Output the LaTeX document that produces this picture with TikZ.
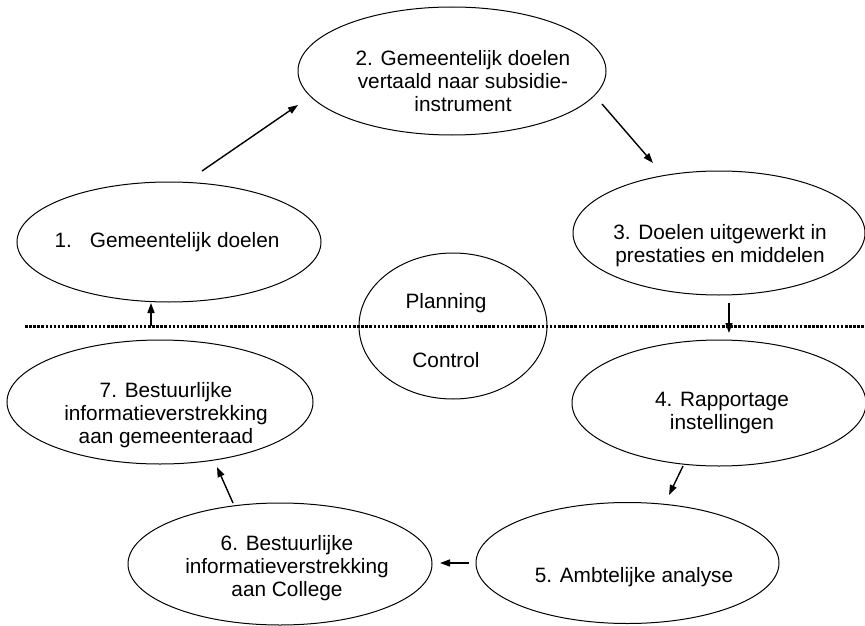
\documentclass[tikz,border=0pt]{standalone}
\usepackage{fontspec}
\setmainfont{Liberation Sans}
\usetikzlibrary{arrows.meta,shapes.geometric}
\begin{document}
\begin{tikzpicture}[x=1pt,y=-1pt,
  ell/.style={ellipse,draw,line width=1pt,inner sep=0pt},
  lbl/.style={font=\fontsize{20.8}{23.3}\selectfont,align=center,inner sep=0pt,anchor=north},
  arr/.style={line width=1.4pt,-{Triangle[length=10pt,width=7pt]}},
  sep/.style={line width=3pt,dash pattern=on 2.5pt off 1.6pt}]
\useasboundingbox (0,0) rectangle (865,626);
% ellipses
\node[ell,minimum width=304pt,minimum height=120pt] (e1) at (169,242) {};
\node[ell,minimum width=308pt,minimum height=128pt] (e2) at (452,71) {};
\node[ell,minimum width=292pt,minimum height=124pt] (e3) at (719,233) {};
\node[ell,minimum width=294pt,minimum height=126pt] (e4) at (719,403) {};
\node[ell,minimum width=303pt,minimum height=121pt] (e5) at (627.5,563) {};
\node[ell,minimum width=304pt,minimum height=122pt] (e6) at (280,564) {};
\node[ell,minimum width=306pt,minimum height=124pt] (e7) at (160,402) {};
\node[ell,minimum width=188pt,minimum height=146pt] (pc) at (453,326) {};
% texts
\node[lbl] (t1) at (167,232) {1.\hspace{18pt}Gemeentelijk doelen};
\node[lbl] (t2) at (463,50) {2. Gemeentelijk doelen\\vertaald naar subsidie-\\instrument};
\node[lbl] (t3) at (720,224) {3. Doelen uitgewerkt in\\prestaties en middelen};
\node[lbl] (t4) at (722,392) {4. Rapportage\\instellingen};
\node[lbl] (t5) at (634,567) {5. Ambtelijke analyse};
\node[lbl] (t6) at (287,535) {6. Bestuurlijke\\informatieverstrekking\\aan College};
\node[lbl] (t7) at (166,382) {7. Bestuurlijke\\informatieverstrekking\\aan gemeenteraad};
\node[lbl] (tp) at (446,293) {Planning};
\node[lbl] (tc) at (446,352) {Control};
% separator
\coordinate (dl) at (25,326);
\coordinate (dr) at (866,326);
\draw[sep] (dl) -- (dr);
% arrow end points
\coordinate (a1s) at (202,171); \coordinate (a1e) at (298,105);
\coordinate (a2s) at (602,104); \coordinate (a2e) at (653,163);
\coordinate (a3s) at (729,303); \coordinate (a3e) at (729,333);
\coordinate (a4s) at (683,466); \coordinate (a4e) at (669,495);
\coordinate (a5s) at (469,563); \coordinate (a5e) at (440,563);
\coordinate (a6s) at (233,503); \coordinate (a6e) at (217,467);
\coordinate (a7s) at (151,326); \coordinate (a7e) at (151,303);
\draw[arr] (a1s) -- (a1e);
\draw[arr] (a2s) -- (a2e);
\draw[arr] (a3s) -- (a3e);
\draw[arr] (a4s) -- (a4e);
\draw[arr] (a5s) -- (a5e);
\draw[arr] (a6s) -- (a6e);
\draw[arr] (a7s) -- (a7e);
\end{tikzpicture}
\end{document}
